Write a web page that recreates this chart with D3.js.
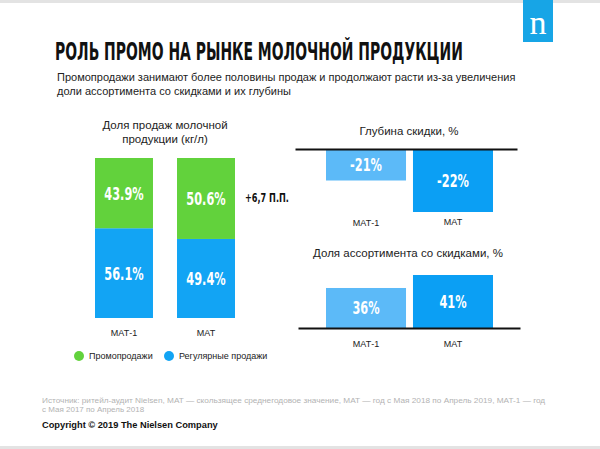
<!DOCTYPE html>
<html><head><meta charset="utf-8">
<script src="https://cdn.jsdelivr.net/npm/d3@7"></script>
<style>
html,body{margin:0;padding:0;background:#fff;}
svg{display:block;}
</style></head>
<body>
<svg id="c" width="600" height="449"></svg>
<script>
// ---- data ----
const categories = ["МАТ-1", "МАТ"];
const promoShare = [43.9, 50.6];
const regularShare = [56.1, 49.4];
const discountDepth = [-21, -22];
const discountAssortment = [36, 41];
const shareDelta = "+6,7 П.П.";
const legendLabels = ["Промопродажи", "Регулярные продажи"];
const titleText = "РОЛЬ ПРОМО НА РЫНКЕ МОЛОЧНОЙ ПРОДУКЦИИ";
const subtitleLines = ["Промопродажи занимают более половины продаж и продолжают расти из-за увеличения",
                       "доли ассортимента со скидками и их глубины"];
const leftTitle = ["Доля продаж молочной", "продукции (кг/л)"];
const depthTitle = "Глубина скидки, %";
const assortTitle = "Доля ассортимента со скидками, %";
const footLines = ["Источник: ритейл-аудит Nielsen, MAT — скользящее среднегодовое значение, MAT — год с Мая 2018 по Апрель 2019, MAT-1 — год",
                   "с Мая 2017 по Апрель 2018"];
const copyright = "Copyright © 2019 The Nielsen Company";

const GREEN = "#62d23c", BLUE = "#12a4f4", LIGHT = "#5cbaf8", DARK = "#0b9ff4";
const SANS = "'Liberation Sans', Arial, sans-serif";
const BOLD = "'DejaVu Sans', sans-serif";

const svg = d3.select("#c");

// squeeze text horizontally (condensed look) around its anchor
function condense(sel, s){
  sel.each(function(){
    const t = d3.select(this);
    const x = +t.attr("x"), y = +t.attr("y");
    t.attr("x",0).attr("y",0).attr("transform",`translate(${x},${y}) scale(${s},1)`);
  });
}
// scale text horizontally so it spans exactly w pixels
function fitTo(sel, w){
  sel.each(function(){
    const s = w / this.getComputedTextLength();
    d3.select(this).call(condense, s);
  });
}

// frame bands
svg.append("rect").attr("x",0).attr("y",0).attr("width",600).attr("height",3).attr("fill","#e3e3e3");
svg.append("rect").attr("x",0).attr("y",446).attr("width",600).attr("height",3).attr("fill","#e3e3e3");

// logo
svg.append("rect").attr("x",523).attr("y",0).attr("width",30).attr("height",42).attr("fill","#17a5e6");
svg.append("text").attr("x",538).attr("y",34).attr("text-anchor","middle")
  .attr("font-family","'Liberation Serif', 'DejaVu Serif', serif").attr("font-size",34).attr("fill","#fff").text("n");

// title
svg.append("text").attr("x",55).attr("y",60).attr("font-family",BOLD).attr("font-weight","bold")
  .attr("font-size",25).attr("fill","#111").text(titleText).call(fitTo, 408);

// subtitle
svg.selectAll("text.sub").data(subtitleLines).join("text").attr("class","sub")
  .attr("x",57).attr("y",(d,i)=>81+i*14).attr("font-family",SANS).attr("font-size",11).attr("fill","#222").text(d=>d);

// ---- left stacked chart ----
const xL = d3.scaleBand().domain(categories).range([95,235]).paddingInner(0.293);
const yL = d3.scaleLinear().domain([0,100]).range([318,158]);

svg.selectAll("text.lt").data(leftTitle).join("text").attr("class","lt")
  .attr("x",165).attr("y",(d,i)=>129+i*14).attr("text-anchor","middle")
  .attr("font-family",SANS).attr("font-size",11.5).attr("fill","#222").text(d=>d);

const stackRows = categories.map((c,i)=>({cat:c, promo:promoShare[i], regular:regularShare[i]}));
const stacked = d3.stack().keys(["regular","promo"])(stackRows);
const colorL = {regular:BLUE, promo:GREEN};
const SQ = 0.63, FS = 18;
stacked.forEach(layer=>{
  const g = svg.append("g");
  g.selectAll("rect").data(layer).join("rect")
    .attr("x",d=>xL(d.data.cat)).attr("width",xL.bandwidth())
    .attr("y",d=>yL(d[1])).attr("height",d=>yL(d[0])-yL(d[1])).attr("fill",colorL[layer.key]);
  g.selectAll("text").data(layer).join("text")
    .attr("x",d=>xL(d.data.cat)+xL.bandwidth()/2).attr("y",d=>(yL(d[0])+yL(d[1]))/2+6.5)
    .attr("text-anchor","middle").attr("font-family",BOLD).attr("font-weight","bold")
    .attr("font-size",FS).attr("fill","#fff").text(d=>d.data[layer.key].toFixed(1)+"%")
    .call(condense, SQ);
});
svg.selectAll("text.cl").data(categories).join("text").attr("class","cl")
  .attr("x",d=>xL(d)+xL.bandwidth()/2).attr("y",335.5).attr("text-anchor","middle")
  .attr("font-family",SANS).attr("font-size",9).attr("fill","#222").text(d=>d);

svg.append("text").attr("x",245).attr("y",202).attr("font-family",BOLD).attr("font-weight","bold")
  .attr("font-size",13).attr("fill","#111").text(shareDelta).call(fitTo, 44);

// legend
const legColors = [GREEN, BLUE];
const legX = [79, 169];
legendLabels.forEach((t,i)=>{
  svg.append("circle").attr("cx",legX[i]).attr("cy",356).attr("r",5).attr("fill",legColors[i]);
  svg.append("text").attr("x",legX[i]+10).attr("y",359).attr("font-family",SANS).attr("font-size",9).attr("fill","#222").text(t);
});

// ---- right top: discount depth ----
const xR = d3.scaleBand().domain(categories).range([326,493]).paddingInner(0.08);
const barColors = [LIGHT, DARK];
const yD = d3.scaleLinear().domain([-20,-22]).range([149,212]);

svg.append("text").attr("x",409).attr("y",135).attr("text-anchor","middle")
  .attr("font-family",SANS).attr("font-size",11.5).attr("fill","#222").text(depthTitle);
const gD = svg.append("g");
gD.selectAll("rect").data(discountDepth).join("rect")
  .attr("x",(d,i)=>xR(categories[i])).attr("width",xR.bandwidth())
  .attr("y",yD(-20)).attr("height",d=>yD(d)-yD(-20)).attr("fill",(d,i)=>barColors[i]);
gD.selectAll("text").data(discountDepth).join("text")
  .attr("x",(d,i)=>xR(categories[i])+xR.bandwidth()/2).attr("y",d=>(yD(d)+yD(-20))/2+6.5)
  .attr("text-anchor","middle").attr("font-family",BOLD).attr("font-weight","bold")
  .attr("font-size",FS).attr("fill","#fff").text(d=>d+"%").call(condense, SQ);
svg.append("g").attr("transform",`translate(0,${yD(-20)})`)
  .call(d3.axisBottom(d3.scaleLinear().range([295,517])).ticks(0).tickSize(0).tickSizeOuter(0))
  .call(g=>g.select(".domain").attr("stroke","#111").attr("stroke-width",2))
  .call(g=>g.selectAll(".tick").remove());
svg.selectAll("text.cd").data(categories).join("text").attr("class","cd")
  .attr("x",d=>xR(d)+xR.bandwidth()/2).attr("y",(d,i)=>i?225:226).attr("text-anchor","middle")
  .attr("font-family",SANS).attr("font-size",9).attr("fill","#222").text(d=>d);

// ---- right bottom: discounted assortment share ----
const yA = d3.scaleLinear().domain([20.6,41]).range([328,275]);
svg.append("text").attr("x",408).attr("y",257).attr("text-anchor","middle")
  .attr("font-family",SANS).attr("font-size",11.5).attr("fill","#222").text(assortTitle);
const gA = svg.append("g");
gA.selectAll("rect").data(discountAssortment).join("rect")
  .attr("x",(d,i)=>xR(categories[i])).attr("width",xR.bandwidth())
  .attr("y",d=>yA(d)).attr("height",d=>yA(20.6)-yA(d)).attr("fill",(d,i)=>barColors[i]);
gA.selectAll("text").data(discountAssortment).join("text")
  .attr("x",(d,i)=>xR(categories[i])+xR.bandwidth()/2).attr("y",d=>(yA(d)+yA(20.6))/2+6.5)
  .attr("text-anchor","middle").attr("font-family",BOLD).attr("font-weight","bold")
  .attr("font-size",FS).attr("fill","#fff").text(d=>d+"%").call(condense, SQ);
svg.append("g").attr("transform",`translate(0,${yA(20.6)})`)
  .call(d3.axisBottom(d3.scaleLinear().range([298,520])).ticks(0).tickSize(0).tickSizeOuter(0))
  .call(g=>g.select(".domain").attr("stroke","#111").attr("stroke-width",2))
  .call(g=>g.selectAll(".tick").remove());
svg.selectAll("text.ca").data(categories).join("text").attr("class","ca")
  .attr("x",d=>xR(d)+xR.bandwidth()/2).attr("y",347).attr("text-anchor","middle")
  .attr("font-family",SANS).attr("font-size",9).attr("fill","#222").text(d=>d);

// ---- footer ----
svg.append("text").attr("x",42).attr("y",403).attr("font-family",SANS).attr("font-size",8)
  .attr("fill","#b3b3b3").text(footLines[0]).call(fitTo, 504);
svg.append("text").attr("x",42).attr("y",411.5).attr("font-family",SANS).attr("font-size",8)
  .attr("fill","#b3b3b3").text(footLines[1]);
svg.append("text").attr("x",42).attr("y",428).attr("font-family",SANS).attr("font-size",9.5).attr("font-weight","bold")
  .attr("fill","#111").text(copyright).call(fitTo, 176);
</script>
</body></html>
